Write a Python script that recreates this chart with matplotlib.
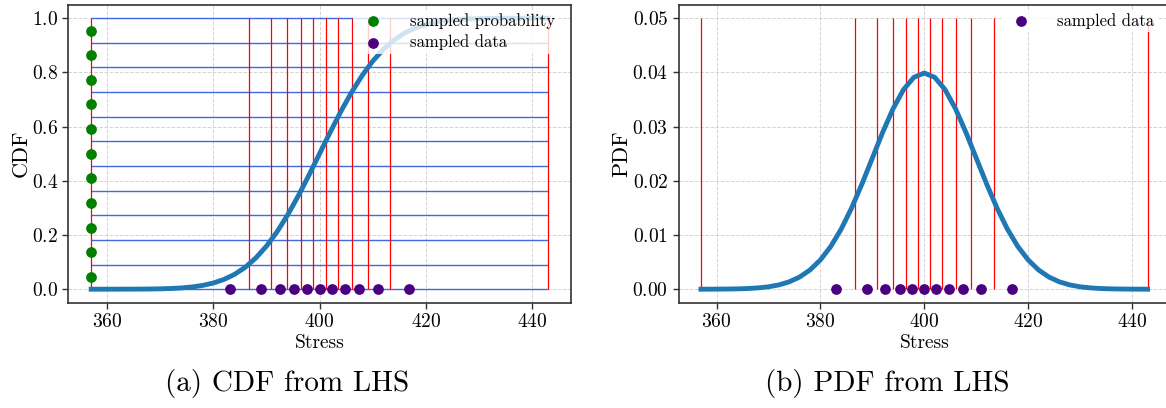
import numpy as np
import matplotlib
matplotlib.use("Agg")
import matplotlib.pyplot as plt

plt.rcParams['font.family'] = 'serif'
plt.rcParams['font.serif'] = ['cmr10']
plt.rcParams['mathtext.fontset'] = 'cm'
plt.rcParams['axes.formatter.use_mathtext'] = True

# stress grid for the curves (mean 400)
stress = [357, 360, 362, 364, 366, 368, 370, 372, 374, 376, 378, 380, 382, 384, 386, 388,
          390, 392, 394, 396, 398, 400, 402, 404, 406, 408, 410, 412, 414, 416, 418, 420,
          422, 424, 426, 428, 430, 432, 434, 436, 438, 440, 443]
cdf = [0.0000, 0.0000, 0.0001, 0.0002, 0.0003, 0.0007, 0.0013, 0.0026, 0.0047, 0.0082,
       0.0139, 0.0228, 0.0359, 0.0548, 0.0808, 0.1151, 0.1587, 0.2119, 0.2743, 0.3446,
       0.4207, 0.5000, 0.5793, 0.6554, 0.7257, 0.7881, 0.8413, 0.8849, 0.9192, 0.9452,
       0.9641, 0.9772, 0.9861, 0.9918, 0.9953, 0.9974, 0.9987, 0.9993, 0.9997, 0.9998,
       0.9999, 1.0000, 1.0000]
pdf = [0.00000, 0.00001, 0.00003, 0.00006, 0.00012, 0.00024, 0.00044, 0.00079, 0.00136,
       0.00224, 0.00355, 0.00540, 0.00790, 0.01109, 0.01497, 0.01942, 0.02420, 0.02897,
       0.03332, 0.03683, 0.03910, 0.03989, 0.03910, 0.03683, 0.03332, 0.02897, 0.02420,
       0.01942, 0.01497, 0.01109, 0.00790, 0.00540, 0.00355, 0.00224, 0.00136, 0.00079,
       0.00044, 0.00024, 0.00012, 0.00006, 0.00003, 0.00001, 0.00000]

# LHS strata boundaries (stress) and probability levels
bounds = [357.0, 386.65, 390.92, 393.95, 396.51, 398.86, 401.14, 403.49, 406.05,
          409.08, 413.35, 443.0]
prob_levels = [0.0, 0.0909, 0.1818, 0.2727, 0.3636, 0.4545, 0.5455, 0.6364, 0.7273,
               0.8182, 0.9091, 1.0]
sampled_prob = [0.0455, 0.1364, 0.2273, 0.3182, 0.4091, 0.5, 0.5909, 0.6818, 0.7727,
                0.8636, 0.9545]
sampled_data = [383.09, 389.03, 392.52, 395.27, 397.70, 400.0, 402.30, 404.73, 407.48,
                410.97, 416.91]

fig = plt.figure(figsize=(11.66, 4.08), dpi=100)
ax1 = fig.add_axes([0.0586, 0.258, 0.4309, 0.7305])
ax2 = fig.add_axes([0.582, 0.258, 0.4214, 0.7305])

for ax in (ax1, ax2):
    ax.grid(True, linestyle='--', color='lightgray', linewidth=0.7)
    ax.set_axisbelow(True)
    for s in ax.spines.values():
        s.set_color('0.2')
        s.set_linewidth(1.2)
    ax.tick_params(labelsize=14, width=1.0, length=4, color='0.2')

# (a) CDF
ax1.hlines(prob_levels, bounds[0], bounds[-1], colors='royalblue', linewidth=1, zorder=2)
ax1.vlines(bounds, 0, 1, colors='red', linewidth=0.9, zorder=2)
ax1.plot(stress, cdf, color='#1f77b4', linewidth=3.5, zorder=3)
ax1.scatter([bounds[0]] * len(sampled_prob), sampled_prob, color='green', s=45,
            zorder=4, label='sampled probability')
ax1.scatter(sampled_data, [0] * len(sampled_data), color='indigo', s=45, zorder=4,
            label='sampled data')
ax1.set_xlabel('Stress', fontsize=14, labelpad=2)
ax1.set_ylabel('CDF', fontsize=16, labelpad=1)
ax1.set_xticks([360, 380, 400, 420, 440])
leg = ax1.legend(loc='upper right', bbox_to_anchor=(0.985, 1.0), fontsize=12,
                 framealpha=0.8, borderaxespad=0.3, borderpad=0.2,
                 handletextpad=1.2, labelspacing=0.35)
leg.get_frame().set_edgecolor('none')

# (b) PDF
ax2.vlines(bounds, 0, 0.05, colors='red', linewidth=0.9, zorder=2)
ax2.plot(stress, pdf, color='#1f77b4', linewidth=3.5, zorder=3)
ax2.scatter(sampled_data, [0] * len(sampled_data), color='indigo', s=45, zorder=4,
            label='sampled data')
ax2.set_xlabel('Stress', fontsize=14, labelpad=2)
ax2.set_ylabel('PDF', fontsize=16, labelpad=1)
ax2.set_xticks([360, 380, 400, 420, 440])
ax2.set_yticks([0.0, 0.01, 0.02, 0.03, 0.04, 0.05])
leg2 = ax2.legend(loc='upper right', bbox_to_anchor=(0.985, 1.0), fontsize=12,
                  framealpha=0.8, borderaxespad=0.3, borderpad=0.2, handletextpad=1.2)
leg2.get_frame().set_edgecolor('none')

fig.text(287 / 1166, 1 - 383 / 408, '(a) CDF from LHS', ha='center', va='center', fontsize=21)
fig.text(887 / 1166, 1 - 383 / 408, '(b) PDF from LHS', ha='center', va='center', fontsize=21)

fig.savefig('out.png', dpi=100)
